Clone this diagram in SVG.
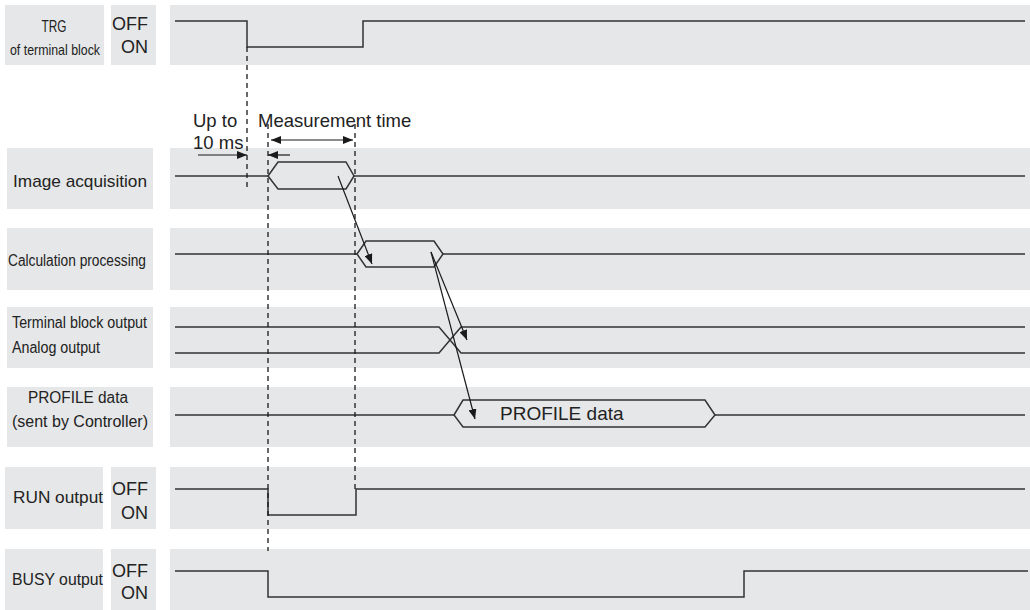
<svg xmlns="http://www.w3.org/2000/svg" width="1030" height="610" viewBox="0 0 1030 610">
<defs>
<marker id="ah" viewBox="0 0 10 8" refX="10" refY="4" markerWidth="10" markerHeight="8" markerUnits="userSpaceOnUse" orient="auto-start-reverse">
<path d="M0,0 L10,4 L0,8 Z" fill="#1a1a1a"/>
</marker>
</defs>
<style>
.bg{fill:#e6e7e8}
.sig{fill:none;stroke:#333;stroke-width:1.5}
.dash{fill:none;stroke:#1a1a1a;stroke-width:1.3;stroke-dasharray:5,4}
.arr{fill:none;stroke:#1a1a1a;stroke-width:1.2}
.lbl{font-family:"Liberation Sans Narrow","Liberation Sans",Arial,sans-serif;fill:#222}
.txt{font-family:"Liberation Sans",Arial,sans-serif;fill:#222}
.onoff{font-family:"Liberation Sans",Arial,sans-serif;font-size:18px;fill:#222;text-anchor:end}
</style>
<rect width="1030" height="610" fill="#ffffff"/>

<g id="trg">
<rect class="bg" x="5" y="5" width="99" height="60"/>
<rect class="bg" x="111" y="5" width="45" height="60"/>
<rect class="bg" x="170" y="5" width="860" height="60"/>
<text class="lbl" x="54" y="32" font-size="17" text-anchor="middle" textLength="25" lengthAdjust="spacingAndGlyphs">TRG</text>
<text class="lbl" x="10" y="55" font-size="15" textLength="90" lengthAdjust="spacingAndGlyphs">of terminal block</text>
<text class="onoff" x="148" y="30">OFF</text>
<text class="onoff" x="148" y="53">ON</text>
<polyline class="sig" points="175,21 247,21 247,47 363,47 363,21 1025,21"/>
</g>

<g id="image-acquisition">
<rect class="bg" x="7" y="148" width="146" height="61"/>
<rect class="bg" x="170" y="148" width="860" height="61"/>
<text class="lbl" x="13" y="187" font-size="17" textLength="134" lengthAdjust="spacingAndGlyphs">Image acquisition</text>
<line class="sig" x1="175" y1="176" x2="268" y2="176"/>
<polygon class="sig" points="268,176 278,162 346,162 354,176 346,189 278,189"/>
<line class="sig" x1="354" y1="176" x2="1025" y2="176"/>
</g>

<g id="calculation-processing">
<rect class="bg" x="7" y="228" width="146" height="62"/>
<rect class="bg" x="170" y="228" width="860" height="62"/>
<text class="lbl" x="8" y="266" font-size="16" textLength="138" lengthAdjust="spacingAndGlyphs">Calculation processing</text>
<line class="sig" x1="175" y1="254" x2="357" y2="254"/>
<polygon class="sig" points="357,254 366,241 434,241 443,254 434,267 366,267"/>
<line class="sig" x1="443" y1="254" x2="1025" y2="254"/>
</g>

<g id="terminal-analog-output">
<rect class="bg" x="7" y="307" width="146" height="61"/>
<rect class="bg" x="170" y="307" width="860" height="61"/>
<text class="lbl" x="12" y="328" font-size="16" textLength="135" lengthAdjust="spacingAndGlyphs">Terminal block output</text>
<text class="lbl" x="12" y="353" font-size="16" textLength="88" lengthAdjust="spacingAndGlyphs">Analog output</text>
<polyline class="sig" points="175,327 439,327 461,353 1025,353"/>
<polyline class="sig" points="175,353 439,353 461,327 1025,327"/>
</g>

<g id="profile-data">
<rect class="bg" x="7" y="387" width="146" height="60"/>
<rect class="bg" x="170" y="387" width="860" height="60"/>
<text class="lbl" x="28" y="403" font-size="16" textLength="100" lengthAdjust="spacingAndGlyphs">PROFILE data</text>
<text class="lbl" x="12" y="427" font-size="16" textLength="136" lengthAdjust="spacingAndGlyphs">(sent by Controller)</text>
<line class="sig" x1="175" y1="415" x2="454" y2="415"/>
<polygon class="sig" points="454,415 463,400 705,400 715,415 705,427 463,427"/>
<line class="sig" x1="715" y1="415" x2="1025" y2="415"/>
<text class="txt" x="500" y="420" font-size="19">PROFILE data</text>
</g>

<g id="run-output">
<rect class="bg" x="5" y="467" width="98" height="62"/>
<rect class="bg" x="111" y="467" width="45" height="62"/>
<rect class="bg" x="170" y="467" width="860" height="62"/>
<text class="lbl" x="13" y="503" font-size="17" textLength="90" lengthAdjust="spacingAndGlyphs">RUN output</text>
<text class="onoff" x="148" y="495">OFF</text>
<text class="onoff" x="148" y="519">ON</text>
<polyline class="sig" points="175,489 268,489 268,515 356,515 356,489 1025,489"/>
</g>

<g id="busy-output">
<rect class="bg" x="5" y="549" width="98" height="61"/>
<rect class="bg" x="111" y="549" width="45" height="61"/>
<rect class="bg" x="170" y="549" width="860" height="61"/>
<text class="lbl" x="12" y="585" font-size="17" textLength="91" lengthAdjust="spacingAndGlyphs">BUSY output</text>
<text class="onoff" x="148" y="577">OFF</text>
<text class="onoff" x="148" y="599">ON</text>
<polyline class="sig" points="175,571 268,571 268,597 744,597 744,571 1028,571"/>
</g>

<g id="timing-annotations">
<text class="txt" x="193" y="127" font-size="18.5">Up to</text>
<text class="txt" x="193" y="149" font-size="18.5">10 ms</text>
<text class="txt" x="258" y="127" font-size="18.5">Measurement time</text>
</g>

<g id="connectors">
<line class="dash" x1="247" y1="47" x2="247" y2="191"/>
<line class="dash" x1="268" y1="124" x2="268" y2="551"/>
<line class="dash" x1="355" y1="124" x2="355" y2="489"/>
<line class="arr" x1="198" y1="155" x2="247" y2="155" marker-end="url(#ah)"/>
<line class="arr" x1="290" y1="155" x2="268" y2="155" marker-end="url(#ah)"/>
<line class="arr" x1="271" y1="140" x2="353" y2="140" marker-start="url(#ah)" marker-end="url(#ah)"/>
<line class="arr" x1="338" y1="176" x2="372" y2="264" marker-end="url(#ah)"/>
<line class="arr" x1="431" y1="252" x2="467" y2="340" marker-end="url(#ah)"/>
<line class="arr" x1="431" y1="252" x2="475" y2="419" marker-end="url(#ah)"/>
</g>
</svg>
